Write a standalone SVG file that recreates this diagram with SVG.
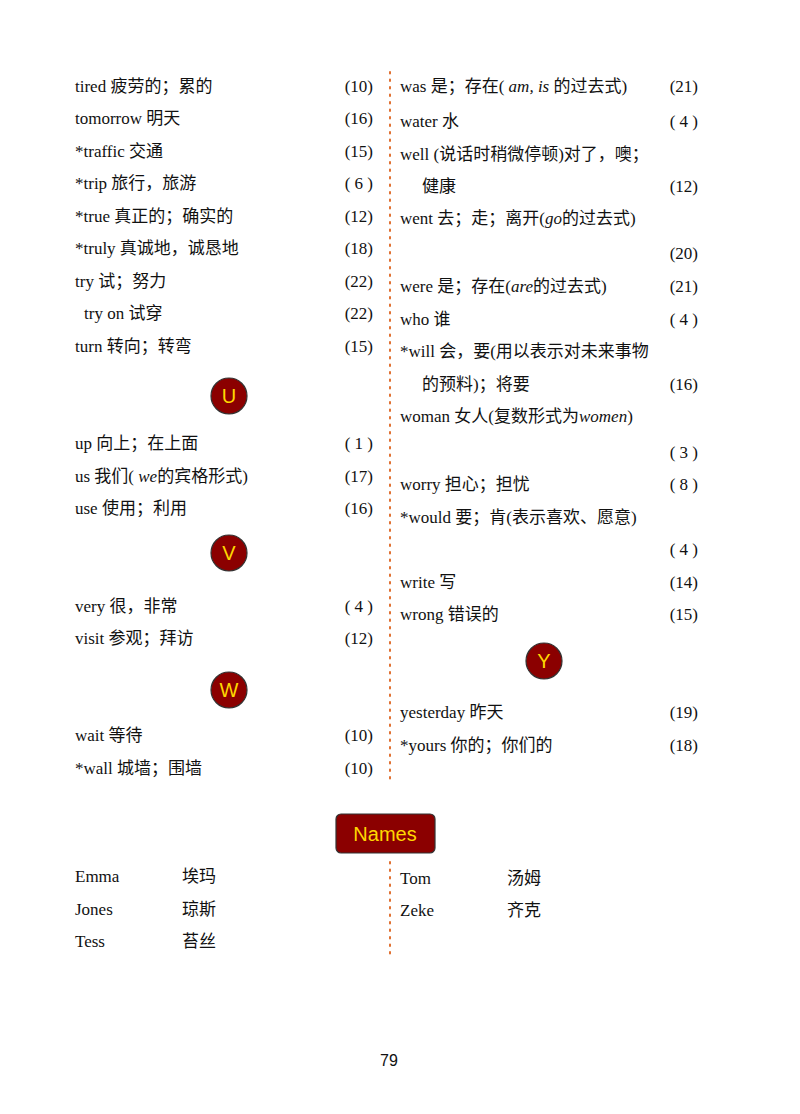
<svg xmlns="http://www.w3.org/2000/svg" width="800" height="1114" viewBox="0 0 800 1114">
<style>
text{font-family:"Liberation Serif","Noto Sans CJK SC",serif;font-size:17px;fill:#111}
.n{text-anchor:end}
.c{fill:#8b0000;stroke:#333;stroke-width:1.2}
.l{font-family:"Liberation Sans",sans-serif;fill:#ffd700;text-anchor:middle;font-size:20px}
.d{stroke:#e07030;stroke-width:2;stroke-dasharray:1.5 6;stroke-linecap:round}
</style>
<rect width="800" height="1114" fill="#fff"/>
<g id="dividers">
<line class="d" x1="390" y1="72" x2="390" y2="780"/>
<line class="d" x1="390" y1="862" x2="390" y2="955"/>
</g>
<g id="left">
<text x="75" y="92">tired 疲劳的；累的</text><text class="n" x="373" y="92">(10)</text>
<text x="75" y="124">tomorrow 明天</text><text class="n" x="373" y="124">(16)</text>
<text x="75" y="157">*traffic 交通</text><text class="n" x="373" y="157">(15)</text>
<text x="75" y="189">*trip 旅行，旅游</text><text class="n" x="373" y="189">( 6 )</text>
<text x="75" y="222">*true 真正的；确实的</text><text class="n" x="373" y="222">(12)</text>
<text x="75" y="254">*truly 真诚地，诚恳地</text><text class="n" x="373" y="254">(18)</text>
<text x="75" y="287">try 试；努力</text><text class="n" x="373" y="287">(22)</text>
<text x="84" y="319">try on 试穿</text><text class="n" x="373" y="319">(22)</text>
<text x="75" y="352">turn 转向；转弯</text><text class="n" x="373" y="352">(15)</text>
<g id="U"><circle class="c" cx="229" cy="396" r="18"/><text class="l" x="229" y="403">U</text></g>
<text x="75" y="449">up 向上；在上面</text><text class="n" x="373" y="449">( 1 )</text>
<text x="75" y="482">us 我们( <tspan font-style="italic">we</tspan>的宾格形式)</text><text class="n" x="373" y="482">(17)</text>
<text x="75" y="514">use 使用；利用</text><text class="n" x="373" y="514">(16)</text>
<g id="V"><circle class="c" cx="229" cy="553" r="18"/><text class="l" x="229" y="560">V</text></g>
<text x="75" y="612">very 很，非常</text><text class="n" x="373" y="612">( 4 )</text>
<text x="75" y="644">visit 参观；拜访</text><text class="n" x="373" y="644">(12)</text>
<g id="W"><circle class="c" cx="229" cy="690" r="18"/><text class="l" x="229" y="697">W</text></g>
<text x="75" y="741">wait 等待</text><text class="n" x="373" y="741">(10)</text>
<text x="75" y="774">*wall 城墙；围墙</text><text class="n" x="373" y="774">(10)</text>
</g>
<g id="right">
<text x="400" y="92">was 是；存在( <tspan font-style="italic">am, is</tspan> 的过去式)</text><text class="n" x="698" y="92">(21)</text>
<text x="400" y="127">water 水</text><text class="n" x="698" y="127">( 4 )</text>
<text x="400" y="160">well (说话时稍微停顿)对了，噢；</text>
<text x="422" y="192">健康</text><text class="n" x="698" y="192">(12)</text>
<text x="400" y="224">went 去；走；离开(<tspan font-style="italic">go</tspan>的过去式)</text>
<text class="n" x="698" y="259">(20)</text>
<text x="400" y="292">were 是；存在(<tspan font-style="italic">are</tspan>的过去式)</text><text class="n" x="698" y="292">(21)</text>
<text x="400" y="325">who 谁</text><text class="n" x="698" y="325">( 4 )</text>
<text x="400" y="357">*will 会，要(用以表示对未来事物</text>
<text x="422" y="390">的预料)；将要</text><text class="n" x="698" y="390">(16)</text>
<text x="400" y="422">woman 女人(复数形式为<tspan font-style="italic">women</tspan>)</text>
<text class="n" x="698" y="458">( 3 )</text>
<text x="400" y="490">worry 担心；担忧</text><text class="n" x="698" y="490">( 8 )</text>
<text x="400" y="523">*would 要；肯(表示喜欢、愿意)</text>
<text class="n" x="698" y="555">( 4 )</text>
<text x="400" y="588">write 写</text><text class="n" x="698" y="588">(14)</text>
<text x="400" y="620">wrong 错误的</text><text class="n" x="698" y="620">(15)</text>
<g id="Y"><circle class="c" cx="544" cy="661" r="18"/><text class="l" x="544" y="668">Y</text></g>
<text x="400" y="718">yesterday 昨天</text><text class="n" x="698" y="718">(19)</text>
<text x="400" y="751">*yours 你的；你们的</text><text class="n" x="698" y="751">(18)</text>
</g>
<g id="names">
<rect class="c" x="336" y="814" width="99" height="39" rx="5"/>
<text class="l" x="385" y="841">Names</text>
<text x="75" y="882">Emma</text><text x="182" y="882">埃玛</text>
<text x="75" y="915">Jones</text><text x="182" y="915">琼斯</text>
<text x="75" y="947">Tess</text><text x="182" y="947">苔丝</text>
<text x="400" y="884">Tom</text><text x="507" y="884">汤姆</text>
<text x="400" y="916">Zeke</text><text x="507" y="916">齐克</text>
</g>
<text x="389" y="1066" style="font-family:'Liberation Sans',sans-serif;font-size:16px;text-anchor:middle">79</text>
</svg>
